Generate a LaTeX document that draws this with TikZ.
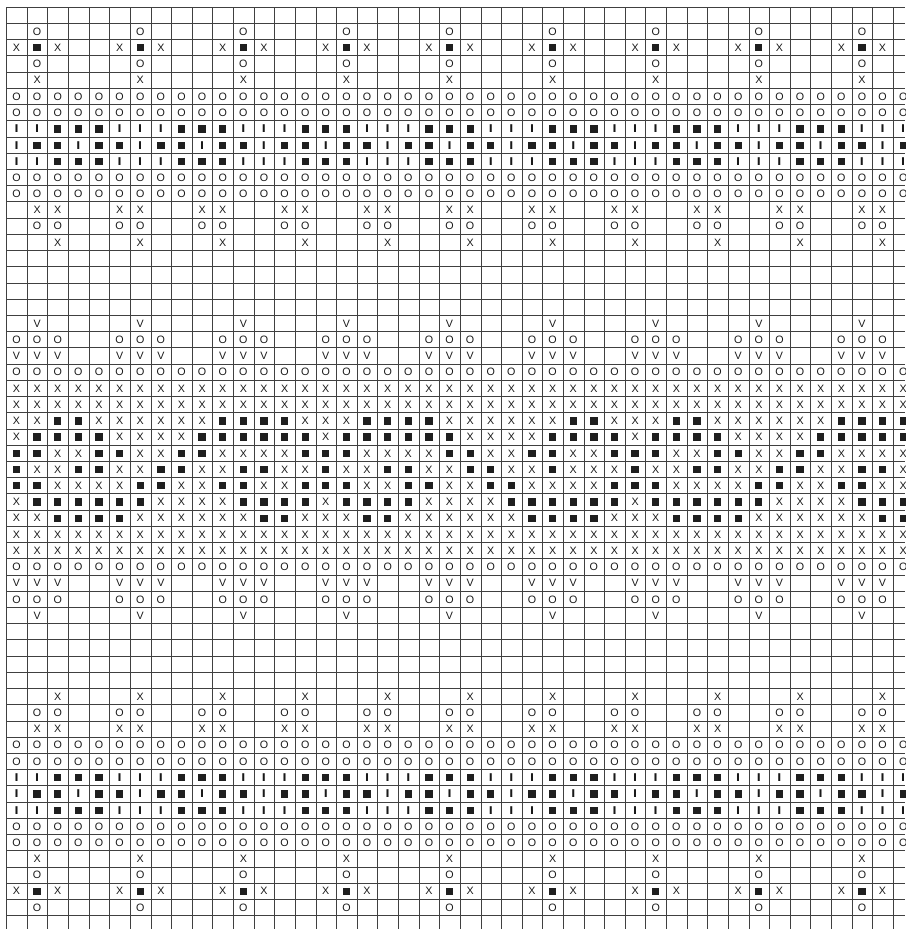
\documentclass[tikz,border=0pt]{standalone}
\usepackage{fontspec}
\setmainfont{Liberation Sans}
\newfontfamily\barfont{DejaVu Sans}
\def\gx{6.7}
\def\gw{20.62}
\def\gtop{921.7}
\def\gh{16.22}
\def\symE{E}
\newcommand{\stX}{X}
\newcommand{\stO}{O}
\newcommand{\stV}{V}
\newcommand{\stI}{{\barfont\bfseries I}}
\newcommand{\stB}{}
\newcommand{\putsym}[3]{\node[sym,sym#3] (n#1-#2) at ({\gx+(#2+0.5)*\gw-0.5},{\gtop-(#1+0.5)*\gh}) {\csname st#3\endcsname};}
\newcommand{\prow}[3]{%
  \pgfmathtruncatemacro\nrep{43/#2}%
  \foreach \s [count=\k from 0] in {#3}{%
    \ifx\s\symE\else
      \foreach \rep in {0,...,\nrep}{%
        \pgfmathtruncatemacro\cc{\k+\rep*#2}%
        \ifnum\cc<44 \putsym{#1}{\cc}{\s}\fi
      }%
    \fi
  }}
\begin{document}
\begin{tikzpicture}[x=1pt,y=1pt,
  gridline/.style={draw=black!75,line width=0.9pt},
  sym/.style={inner sep=0pt,text=black!90,font=\fontsize{10.7pt}{12pt}\selectfont},
  symX/.style={},
  symO/.style={},
  symV/.style={},
  symI/.style={},
  symB/.style={fill=black!88,minimum width=7.3pt,minimum height=7.3pt}]
\useasboundingbox (0,0) rectangle (905,929);
\fill[white] (0,0) rectangle (905,929);
% grid
\foreach \k in {0,...,43} \draw[gridline] ({\gx+\k*\gw},\gtop) -- ({\gx+\k*\gw},0);
\foreach \j in {0,...,56} \draw[gridline] (\gx,{\gtop-\j*\gh}) -- (905,{\gtop-\j*\gh});
% top band
\prow{1}{5}{E,O,E,E,E}
\prow{2}{5}{X,B,X,E,E}
\prow{3}{5}{E,O,E,E,E}
\prow{4}{5}{E,X,E,E,E}
\prow{5}{1}{O}
\prow{6}{1}{O}
\prow{7}{6}{I,I,B,B,B,I}
\prow{8}{3}{I,B,B}
\prow{9}{6}{I,I,B,B,B,I}
\prow{10}{1}{O}
\prow{11}{1}{O}
\prow{12}{4}{E,X,X,E}
\prow{13}{4}{E,O,O,E}
\prow{14}{4}{E,E,X,E}
% middle band
\prow{19}{5}{E,V,E,E,E}
\prow{20}{5}{O,O,O,E,E}
\prow{21}{5}{V,V,V,E,E}
\prow{22}{1}{O}
\prow{23}{1}{X}
\prow{24}{1}{X}
\prow{25}{30}{X,X,B,B,X,X,X,X,X,X,B,B,B,B,X,X,X,B,B,B,B,X,X,X,X,X,X,B,B,X}
\prow{26}{30}{X,B,B,B,B,X,X,X,X,B,B,B,B,B,B,X,B,B,B,B,B,B,X,X,X,X,B,B,B,B}
\prow{27}{30}{B,B,X,X,B,B,X,X,B,B,X,X,X,X,B,B,B,X,X,X,X,B,B,X,X,B,B,X,X,B}
\prow{28}{30}{B,X,X,B,B,X,X,B,B,X,X,B,B,X,X,B,X,X,B,B,X,X,B,B,X,X,B,X,X,X}
\prow{29}{30}{B,B,X,X,X,X,B,B,X,X,B,B,X,X,B,B,B,X,X,B,B,X,X,B,B,X,X,X,X,B}
\prow{30}{30}{X,B,B,B,B,B,B,X,X,X,X,B,B,B,B,X,B,B,B,B,X,X,X,X,B,B,B,B,B,B}
\prow{31}{30}{X,X,B,B,B,B,X,X,X,X,X,X,B,B,X,X,X,B,B,X,X,X,X,X,X,B,B,B,B,X}
\prow{32}{1}{X}
\prow{33}{1}{X}
\prow{34}{1}{O}
\prow{35}{5}{V,V,V,E,E}
\prow{36}{5}{O,O,O,E,E}
\prow{37}{5}{E,V,E,E,E}
% bottom band
\prow{42}{4}{E,E,X,E}
\prow{43}{4}{E,O,O,E}
\prow{44}{4}{E,X,X,E}
\prow{45}{1}{O}
\prow{46}{1}{O}
\prow{47}{6}{I,I,B,B,B,I}
\prow{48}{3}{I,B,B}
\prow{49}{6}{I,I,B,B,B,I}
\prow{50}{1}{O}
\prow{51}{1}{O}
\prow{52}{5}{E,X,E,E,E}
\prow{53}{5}{E,O,E,E,E}
\prow{54}{5}{X,B,X,E,E}
\prow{55}{5}{E,O,E,E,E}
\end{tikzpicture}
\end{document}
